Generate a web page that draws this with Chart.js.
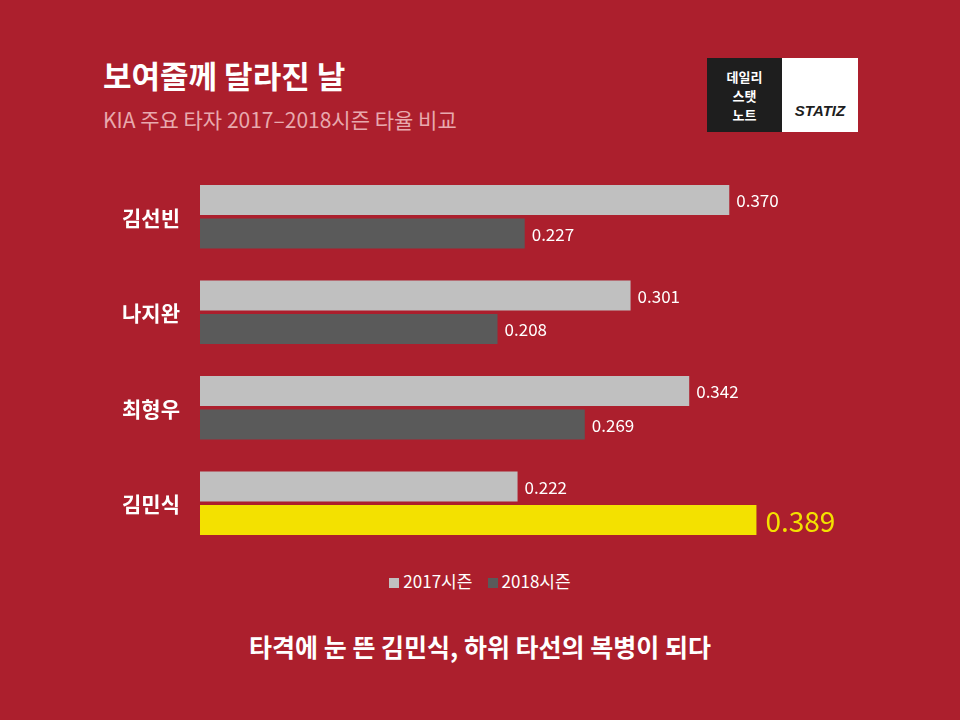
<!DOCTYPE html>
<html><head><meta charset="utf-8">
<script src="https://cdn.jsdelivr.net/npm/chart.js@4"></script>
<style>
  body { margin:0; width:960px; height:720px; background:#ac1f2d; font-family:"Noto Sans CJK KR","Noto Sans",sans-serif; position:relative; overflow:hidden; }
  #title { position:absolute; left:103px; top:52px; color:#fff; font-size:31px; font-weight:700; }
  #sub { position:absolute; left:103px; top:104px; color:#e8a9ae; font-size:21px; }
  #logo { position:absolute; left:707px; top:58px; width:151px; height:74px; display:flex; }
  #logo .l { width:75px; background:#1e1e1e; color:#fff; font-size:13px; font-weight:700; text-align:center; line-height:19px; padding-top:9px; box-sizing:border-box; }
  #logo .r { flex:1; background:#fff; color:#1e1e1e; font:italic 700 15px "Liberation Sans",sans-serif; text-align:center; padding-top:44px; box-sizing:border-box; }
  #wrap { position:absolute; left:0; top:160px; width:960px; height:400px; }
  #legend { position:absolute; top:568px; left:0; width:960px; text-align:center; color:#fff; font-size:17px; }
  #legend span.b { display:inline-block; width:10px; height:10px; margin-right:4px; }
  #foot { position:absolute; top:628px; left:0; width:960px; text-align:center; color:#fff; font-size:25px; font-weight:700; }
</style></head>
<body>
<div id="title">보여줄께 달라진 날</div>
<div id="sub">KIA 주요 타자 2017–2018시즌 타율 비교</div>
<div id="logo"><div class="l">데일리<br>스탯<br>노트</div><div class="r">STATIZ</div></div>
<div id="wrap"><canvas id="c" width="960" height="400"></canvas></div>
<div id="legend"><span class="b" style="background:#c0c0c0"></span>2017시즌 &nbsp;&nbsp; <span class="b" style="background:#5a5a5a"></span>2018시즌</div>
<div id="foot">타격에 눈 뜬 김민식, 하위 타선의 복병이 되다</div>
<script>
const players = ['김선빈', '나지완', '최형우', '김민식'];
const avg2017 = [0.370, 0.301, 0.342, 0.222];
const avg2018 = [0.227, 0.208, 0.269, 0.389];
const highlight = 3;

const labelPlugin = {
  id: 'labels',
  afterDatasetsDraw(chart) {
    const ctx = chart.ctx;
    ctx.save();
    ctx.textBaseline = 'middle';
    chart.data.datasets.forEach((ds, di) => {
      chart.getDatasetMeta(di).data.forEach((bar, i) => {
        const big = di === 1 && i === highlight;
        ctx.fillStyle = big ? '#f3e100' : '#fff';
        ctx.font = big ? '28px "Noto Sans CJK KR"' : '17px "Noto Sans CJK KR"';
        ctx.textAlign = 'left';
        ctx.fillText(ds.data[i].toFixed(3), bar.x + (big ? 9 : 7), bar.y + 1);
      });
    });
    const y = chart.scales.y;
    ctx.fillStyle = '#fff';
    ctx.font = 'bold 21px "Noto Sans CJK KR"';
    ctx.textAlign = 'right';
    players.forEach((p, i) => ctx.fillText(p, 180, y.getPixelForValue(i) + 1));
    ctx.restore();
  }
};

new Chart(document.getElementById('c'), {
  type: 'bar',
  data: {
    labels: players,
    datasets: [
      { label: '2017시즌', data: avg2017, backgroundColor: '#c0c0c0' },
      { label: '2018시즌', data: avg2018, backgroundColor: avg2018.map((v, i) => i === highlight ? '#f3e100' : '#5a5a5a') }
    ]
  },
  options: {
    indexAxis: 'y',
    responsive: false,
    animation: false,
    devicePixelRatio: 1,
    layout: { padding: { left: 200, right: 102, top: 9, bottom: 9 } },
    datasets: { bar: { categoryPercentage: 0.7, barPercentage: 0.9 } },
    scales: {
      x: { display: false, min: 0, max: 0.46 },
      y: { display: false }
    },
    plugins: { legend: { display: false }, tooltip: { enabled: false } }
  },
  plugins: [labelPlugin]
});
</script>
</body></html>
